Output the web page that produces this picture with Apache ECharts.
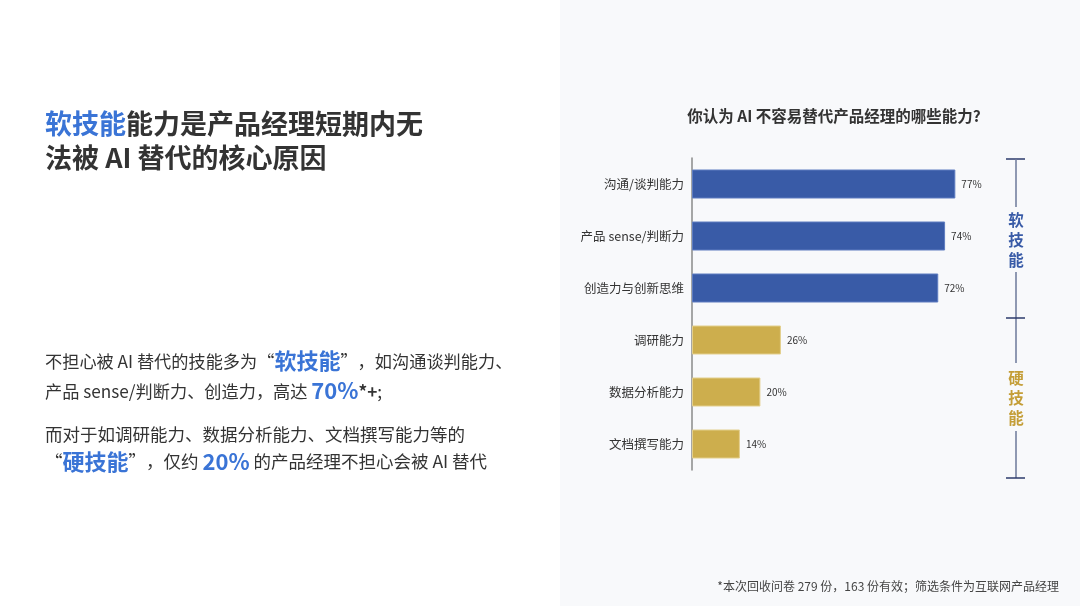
<!DOCTYPE html>
<html>
<head>
<meta charset="utf-8">
<script src="https://cdn.jsdelivr.net/npm/echarts@6/dist/echarts.min.js"></script>
<style>
  html, body { margin: 0; padding: 0; background: #fff; }
  #chart { width: 1080px; height: 606px; }
</style>
</head>
<body>
<div id="chart"></div>
<script>
// 데이터
const categories = ['沟通/谈判能力', '产品 sense/判断力', '创造力与创新思维', '调研能力', '数据分析能力', '文档撰写能力'];
const values = [77, 74, 72, 26, 20, 14];
const groups = ['soft', 'soft', 'soft', 'hard', 'hard', 'hard'];

const BLUE = '#395ba7';
const GOLD = '#cdae4d';
const HILITE = '#3a74d6';
const FONT = '"Noto Sans CJK SC", "Noto Sans", sans-serif';

var chart = echarts.init(document.getElementById('chart'));

// 막대 데이터 (위에서부터 순서대로 보이도록 category 축 inverse)
var barData = values.map(function (v, i) {
  return {
    value: v,
    itemStyle: {
      color: groups[i] === 'soft' ? BLUE : GOLD,
      borderColor: groups[i] === 'soft' ? '#5f7dc0' : '#e3cf8c',
      borderWidth: 1
    }
  };
});

function bracketLine(x1, y1, x2, y2, color, w) {
  return { type: 'line', shape: { x1: x1, y1: y1, x2: x2, y2: y2 }, style: { stroke: color, lineWidth: w }, silent: true };
}

var option = {
  backgroundColor: '#ffffff',
  textStyle: { fontFamily: FONT },
  title: {
    text: '你认为 AI 不容易替代产品经理的哪些能力?',
    left: 829,
    top: 103,
    textAlign: 'center',
    textStyle: { fontSize: 15.5, fontWeight: 'bold', color: '#333', fontFamily: FONT }
  },
  grid: { left: 692, top: 158, width: 342, height: 312 },
  xAxis: {
    type: 'value',
    min: 0,
    max: 100,
    show: false
  },
  yAxis: {
    type: 'category',
    data: categories,
    inverse: true,
    axisLine: { show: true, lineStyle: { color: '#8a8a8a', width: 1.5 } },
    axisTick: { show: false },
    axisLabel: { color: '#333', fontSize: 12.5, margin: 8, fontFamily: FONT }
  },
  series: [{
    type: 'bar',
    data: barData,
    barWidth: 29,
    label: {
      show: true,
      position: 'right',
      distance: 6,
      formatter: '{c}%',
      color: '#333',
      fontSize: 10,
      fontFamily: FONT
    }
  }],
  graphic: [
    // 오른쪽 회색 패널
    { type: 'rect', z: -10, shape: { x: 560, y: 0, width: 520, height: 606 }, style: { fill: '#f8f9fb' }, silent: true },
    // 왼쪽 제목
    {
      type: 'text', left: 45, top: 110,
      style: {
        text: '{b|软技能}{d|能力是产品经理短期内无}\n{d|法被 AI 替代的核心原因}',
        rich: {
          b: { fontSize: 27, fontWeight: 'bold', fill: HILITE, fontFamily: FONT, lineHeight: 34 },
          d: { fontSize: 27, fontWeight: 'bold', fill: '#333', fontFamily: FONT, lineHeight: 34 }
        }
      }
    },
    // 본문 1
    {
      type: 'text', left: 45, top: 350,
      style: {
        text: '{n|不担心被 AI 替代的技能多为“}{h|软技能}{n|”，如沟通谈判能力、}\n{n|产品 sense/判断力、创造力，高达 }{h|70%}{s|*+}{n|;}',
        rich: {
          n: { fontSize: 17.2, fill: '#333', fontFamily: FONT, lineHeight: 30 },
          h: { fontSize: 22, fontWeight: 'bold', fill: HILITE, fontFamily: FONT, lineHeight: 30 },
          s: { fontSize: 17.2, fontWeight: 'bold', fill: '#333', fontFamily: FONT, lineHeight: 30 }
        }
      }
    },
    // 본문 2
    {
      type: 'text', left: 45, top: 426,
      style: {
        text: '{n|而对于如调研能力、数据分析能力、文档撰写能力等的}\n{n|“}{h|硬技能}{n|”，仅约 }{h|20%}{n| 的产品经理不担心会被 AI 替代}',
        rich: {
          n: { fontSize: 17.5, fill: '#333', fontFamily: FONT, lineHeight: 27 },
          h: { fontSize: 22, fontWeight: 'bold', fill: HILITE, fontFamily: FONT, lineHeight: 27 }
        }
      }
    },
    // 오른쪽 괄호
    bracketLine(1006, 159, 1025, 159, '#2c3a6b', 1.5),
    bracketLine(1016, 159, 1016, 207, '#6d789a', 1.5),
    bracketLine(1016, 272, 1016, 363, '#6d789a', 1.5),
    bracketLine(1006, 318, 1025, 318, '#2c3a6b', 1.5),
    bracketLine(1016, 431, 1016, 478, '#6d789a', 1.5),
    bracketLine(1006, 478, 1025, 478, '#2c3a6b', 1.5),
    {
      type: 'text', x: 1016, y: 240,
      style: { text: '软\n技\n能', fill: BLUE, fontSize: 15.5, fontWeight: 'bold', fontFamily: FONT, lineHeight: 20, align: 'center', verticalAlign: 'middle' }
    },
    {
      type: 'text', x: 1016, y: 398,
      style: { text: '硬\n技\n能', fill: '#c49e38', fontSize: 15.5, fontWeight: 'bold', fontFamily: FONT, lineHeight: 20, align: 'center', verticalAlign: 'middle' }
    },
    // 각주
    {
      type: 'text', x: 1059, y: 586,
      style: { text: '*本次回收问卷 279 份，163 份有效；筛选条件为互联网产品经理', fill: '#444', fontSize: 12, fontFamily: FONT, align: 'right', verticalAlign: 'middle' }
    }
  ]
};
chart.setOption(option);
</script>
</body>
</html>
